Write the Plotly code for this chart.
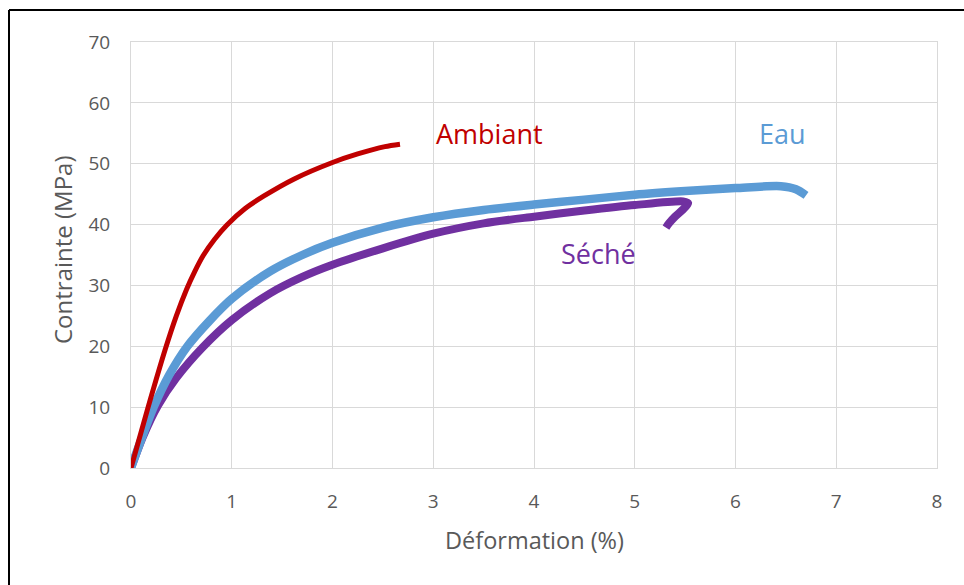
import plotly.graph_objects as go

# Ambiant (red)
amb_x = [0, 0.17, 0.34, 0.45, 0.55, 0.63, 0.72, 0.83, 0.95, 1.13, 1.32, 1.62, 2.00, 2.25, 2.52, 2.67]
amb_y = [0, 10.0, 19.5, 25.0, 29.3, 32.2, 35.0, 37.6, 39.9, 42.6, 44.7, 47.5, 50.2, 51.6, 52.8, 53.2]

# Eau (blue)
eau_x = [0, 0.10, 0.225, 0.38, 0.56, 0.78, 1.00, 1.38, 1.70, 2.00, 2.50, 3.00, 3.50, 4.00, 4.50, 5.00, 5.50, 6.00, 6.45, 6.60, 6.70]
eau_y = [0, 4.6, 10.0, 15.3, 20.0, 24.2, 27.8, 32.3, 35.0, 37.0, 39.5, 41.2, 42.4, 43.3, 44.1, 44.9, 45.5, 46.0, 46.3, 45.8, 44.8]

# Séché (purple)
sec_x = [0, 0.12, 0.265, 0.45, 0.71, 1.00, 1.38, 1.70, 2.00, 2.50, 3.00, 3.50, 4.00, 4.50, 5.00, 5.48, 5.53, 5.48, 5.40, 5.34, 5.31]
sec_y = [0, 5.2, 10.2, 14.8, 19.8, 24.3, 28.7, 31.4, 33.4, 36.1, 38.5, 40.2, 41.3, 42.3, 43.2, 43.8, 43.5, 42.5, 41.3, 40.2, 39.5]

labels = ["Ambiant", "Eau", "Séché"]
label_x = [3.56, 6.47, 4.64]
label_y = [55.0, 55.0, 35.2]
colors = ["#C00000", "#5B9BD5", "#7030A0"]

x_ticks = [0, 1, 2, 3, 4, 5, 6, 7, 8]
y_ticks = [0, 10, 20, 30, 40, 50, 60, 70]

fig = go.Figure()
fig.add_trace(go.Scatter(x=sec_x, y=sec_y, mode="lines", name="Séché",
                         line=dict(color=colors[2], width=8, shape="spline", smoothing=0.8)))
fig.add_trace(go.Scatter(x=eau_x, y=eau_y, mode="lines", name="Eau",
                         line=dict(color=colors[1], width=8.5, shape="spline", smoothing=0.8)))
fig.add_trace(go.Scatter(x=amb_x, y=amb_y, mode="lines", name="Ambiant",
                         line=dict(color=colors[0], width=5, shape="spline", smoothing=0.8)))

for t, xv, yv, c in zip(labels, label_x, label_y, colors):
    fig.add_annotation(x=xv, y=yv, text=t, showarrow=False, xanchor="center", yanchor="middle",
                       font=dict(family="Open Sans", size=27, color=c))

tick_font = dict(family="Open Sans", size=19, color="#595959")

fig.add_annotation(xref="paper", yref="paper", x=0.5, y=(468 - 540) / 426, text="Déformation (%)",
                   showarrow=False, xanchor="center", yanchor="middle",
                   font=dict(family="Open Sans", size=23.5, color="#595959"))
fig.add_annotation(xref="paper", yref="paper", x=(62 - 131) / 806, y=(468 - 250) / 426, text="Contrainte (MPa)",
                   showarrow=False, xanchor="center", yanchor="middle", textangle=-90,
                   font=dict(family="Open Sans", size=24, color="#595959"))

# image frame (top and left borders)
fig.add_shape(type="line", xref="paper", yref="paper", x0=(9 - 131) / 806, x1=1.05,
              y0=(468 - 10) / 426, y1=(468 - 10) / 426, line=dict(color="black", width=2))
fig.add_shape(type="line", xref="paper", yref="paper", x0=(9 - 131) / 806, x1=(9 - 131) / 806,
              y0=(468 - 10) / 426, y1=-0.3, line=dict(color="black", width=2))

fig.update_xaxes(range=[0, 8], tickvals=x_ticks, showgrid=True, gridcolor="#d9d9d9", gridwidth=1,
                 zeroline=False, showline=True, linecolor="#d9d9d9", linewidth=1, mirror=True,
                 tickfont=tick_font, ticks="", ticklabelstandoff=16, fixedrange=True)
fig.update_yaxes(range=[0, 70], tickvals=y_ticks, showgrid=True, gridcolor="#d9d9d9", gridwidth=1,
                 zeroline=False, showline=True, linecolor="#d9d9d9", linewidth=1, mirror=True,
                 tickfont=tick_font, ticks="", ticklabelstandoff=16, fixedrange=True)

fig.update_layout(width=964, height=585, margin=dict(l=131, r=27, t=42, b=117),
                  paper_bgcolor="white", plot_bgcolor="white", showlegend=False)

fig.write_html("out.html", config={"displayModeBar": False},
               post_script="document.body.style.margin='0';document.body.style.overflow='hidden';")
